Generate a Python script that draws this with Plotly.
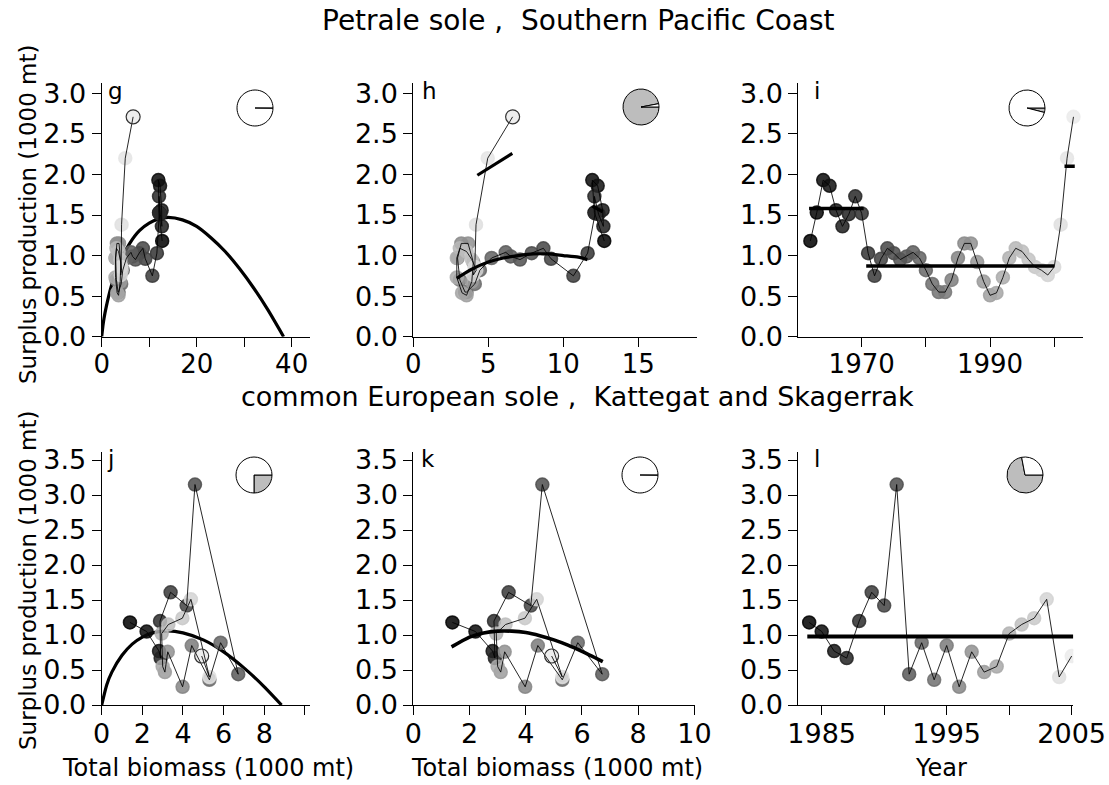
import plotly.graph_objects as go

W, H = 1109, 785

# ---------------- data ----------------
petrale_years = [1962, 1963, 1964, 1965, 1966, 1967, 1968, 1969, 1970, 1971,
                 1972, 1973, 1974, 1975, 1976, 1977, 1978, 1979, 1980, 1981,
                 1982, 1983, 1984, 1985, 1986, 1987, 1988, 1989, 1990, 1991,
                 1992, 1993, 1994, 1995, 1996, 1997, 1998, 1999, 2000, 2001,
                 2002, 2003]
petrale_sp = [1.18, 1.53, 1.93, 1.86, 1.56, 1.36, 1.51, 1.73, 1.52, 1.03,
              0.75, 0.96, 1.09, 1.03, 0.95, 0.99, 1.04, 0.97, 0.82, 0.65,
              0.55, 0.55, 0.70, 0.97, 1.15, 1.15, 0.92, 0.68, 0.51, 0.54,
              0.73, 0.97, 1.09, 1.05, 0.95, 0.86, 0.82, 0.76, 0.86, 1.38,
              2.20, 2.71]
petrale_biomass = [12.73, 12.07, 11.93, 12.29, 12.62, 12.67, 12.35, 12.07, 12.12, 11.62,
                   10.67, 9.18, 8.67, 7.89, 7.11, 6.50, 6.16, 5.22, 4.44, 4.10,
                   3.55, 3.45, 3.10, 2.95, 3.20, 3.65, 4.00, 3.90, 3.55, 3.25,
                   2.90, 2.90, 3.10, 3.55, 3.90, 4.10, 4.20, 4.00, 4.10, 4.18,
                   4.96, 6.62]

sole_years = [1984, 1985, 1986, 1987, 1988, 1989, 1990, 1991, 1992, 1993, 1994,
              1995, 1996, 1997, 1998, 1999, 2000, 2001, 2002, 2003, 2004, 2005]
sole_sp = [1.18, 1.05, 0.77, 0.67, 1.20, 1.61, 1.42, 3.15, 0.44, 0.89, 0.36,
           0.85, 0.26, 0.76, 0.47, 0.55, 1.02, 1.15, 1.24, 1.51, 0.40, 0.70]
sole_biomass = [1.39, 2.21, 2.82, 2.90, 2.87, 3.39, 4.18, 4.59, 6.72, 5.85, 5.30,
                4.43, 3.98, 3.25, 3.11, 3.00, 2.95, 3.28, 3.97, 4.39, 5.30, 4.92]

# fitted production curves
petrale_fit_b = [0, 0.25, 0.5, 1, 2, 3, 4, 6, 8, 10, 12, 14, 17, 20, 23, 26, 29, 32, 35, 38.3]
petrale_fit_p = [0, 0.13, 0.23, 0.38, 0.62, 0.80, 0.94, 1.16, 1.31, 1.40, 1.45, 1.47,
                 1.44, 1.36, 1.22, 1.05, 0.84, 0.60, 0.33, 0]
petrale_r1_b = [11.93, 12.62]
petrale_r1_p = [1.61, 1.54]
petrale_r2_b = [2.9, 3.5, 4, 5, 6, 7, 8, 9, 10, 11, 11.6]
petrale_r2_p = [0.72, 0.79, 0.84, 0.92, 0.97, 1.00, 1.02, 1.02, 1.00, 0.98, 0.95]
petrale_r3_b = [4.27, 6.60]
petrale_r3_p = [1.99, 2.26]
petrale_mean_start = [1961.8, 1970.7, 2001.6]
petrale_mean_end = [1970.3, 2000.0, 2003.2]
petrale_mean_sp = [1.58, 0.87, 2.10]

sole_fit_b = [0, 0.25, 0.5, 1, 1.5, 2, 2.5, 3.26, 4, 5, 6, 7, 8, 8.85]
sole_fit_p = [0, 0.29, 0.47, 0.71, 0.87, 0.97, 1.03, 1.06, 1.03, 0.93, 0.76, 0.53, 0.26, 0]
sole_r_b = [1.36, 2, 2.5, 3, 3.5, 4, 4.5, 5, 5.5, 6, 6.74]
sole_r_p = [0.83, 0.97, 1.03, 1.055, 1.055, 1.035, 0.99, 0.93, 0.855, 0.765, 0.62]
sole_mean_start = [1983.85]
sole_mean_end = [2005.13]
sole_mean_sp = [0.98]

# proportion of the grey slice in each corner pie
pie_grey = {"g": 0.0, "h": 0.97, "i": 0.04, "j": 0.25, "k": 0.0, "l": 0.72}

# tick values / labels
petrale_b_ticks = [0, 10, 20, 30, 40]
petrale_b_labels = ["0", "", "20", "", "40"]
petrale_b2_ticks = [0, 5, 10, 15]
petrale_b2_labels = ["0", "5", "10", "15"]
petrale_yr_ticks = [1970, 1980, 1990, 2000]
petrale_yr_labels = ["1970", "", "1990", ""]
sole_b_ticks = [0, 2, 4, 6, 8, 10]
sole_b_labels = ["0", "2", "4", "6", "8", ""]
sole_b2_labels = ["0", "2", "4", "6", "8", "10"]
sole_yr_ticks = [1985, 1990, 1995, 2000, 2005]
sole_yr_labels = ["1985", "", "1995", "", "2005"]
top_y_ticks = [0, 0.5, 1.0, 1.5, 2.0, 2.5, 3.0]
bot_y_ticks = [0, 0.5, 1.0, 1.5, 2.0, 2.5, 3.0, 3.5]

# ---------------- styling helpers ----------------
FONT = "DejaVu Sans"


def greys(n, alpha=0.85):
    out = []
    for i in range(n):
        g = int(round(255 * 0.92 * i / (n - 1)))
        out.append(f"rgba({g},{g},{g},{alpha})")
    return out


# panel boxes in pixels: x0, x1, ytop, ybottom, xrange, yrange
panels = {
    "g": (101.7, 310.0, 83.0, 336.7, [0, 43.86], [0, 3.127]),
    "h": (413.3, 696.7, 83.0, 336.7, [0, 18.89], [0, 3.127]),
    "i": (798.3, 1083.3, 83.0, 336.7, [1960.12, 2004.53], [0, 3.127]),
    "j": (101.7, 310.0, 451.7, 705.0, [0, 10.25], [0, 3.619]),
    "k": (413.3, 695.0, 451.7, 705.0, [0, 10.02], [0, 3.619]),
    "l": (798.3, 1073.3, 451.7, 705.0, [1983.13, 2005.13], [0, 3.619]),
}
order = ["g", "h", "i", "j", "k", "l"]
xticks = {
    "g": (petrale_b_ticks, petrale_b_labels),
    "h": (petrale_b2_ticks, petrale_b2_labels),
    "i": (petrale_yr_ticks, petrale_yr_labels),
    "j": (sole_b_ticks, sole_b_labels),
    "k": (sole_b_ticks, sole_b2_labels),
    "l": (sole_yr_ticks, sole_yr_labels),
}

fig = go.Figure()
layout = dict(width=W, height=H, autosize=False,
              margin=dict(l=0, r=0, t=0, b=0, pad=0, autoexpand=False),
              paper_bgcolor="white", plot_bgcolor="white", showlegend=False,
              font=dict(family=FONT, color="black"))

for idx, key in enumerate(order):
    n = "" if idx == 0 else str(idx + 1)
    x0, x1, yt, yb, xr, yr = panels[key]
    tv, tt = xticks[key]
    top = key in "ghi"
    yt_vals = top_y_ticks if top else bot_y_ticks
    layout["xaxis" + n] = dict(
        domain=[x0 / W, x1 / W], range=xr, anchor="y" + n, automargin=False,
        showline=True, linecolor="black", linewidth=1, showgrid=False, zeroline=False,
        ticks="outside", ticklen=9, tickwidth=1, tickcolor="black",
        ticklabelstandoff=-5 if top else -4,
        tickvals=tv, ticktext=tt,
        tickfont=dict(family=FONT, size=26 if top else 27, color="black"),
        fixedrange=True)
    layout["yaxis" + n] = dict(
        domain=[1 - yb / H, 1 - yt / H], range=yr, anchor="x" + n, automargin=False,
        showline=True, linecolor="black", linewidth=1, showgrid=False, zeroline=False,
        ticks="outside", ticklen=9, tickwidth=1, tickcolor="black",
        tickvals=yt_vals, ticktext=[f"{v:.1f}" for v in yt_vals],
        tickfont=dict(family=FONT, size=27, color="black"), fixedrange=True)


def axes(key):
    idx = order.index(key)
    n = "" if idx == 0 else str(idx + 1)
    return "x" + n, "y" + n


def add_points(key, xs, ys, open_last):
    xa, ya = axes(key)
    cols = greys(len(xs))
    fig.add_trace(go.Scatter(x=xs, y=ys, mode="markers", xaxis=xa, yaxis=ya,
                             marker=dict(size=13, color=cols, line=dict(color=cols, width=1.5)),
                             hoverinfo="skip"))
    fig.add_trace(go.Scatter(x=xs, y=ys, mode="lines", xaxis=xa, yaxis=ya,
                             line=dict(color="rgba(0,0,0,0.85)", width=1), hoverinfo="skip"))
    if open_last:
        fig.add_trace(go.Scatter(x=[xs[-1]], y=[ys[-1]], mode="markers", xaxis=xa, yaxis=ya,
                                 marker=dict(size=14, color="rgba(0,0,0,0)",
                                             line=dict(color="#333333", width=1.2)),
                                 hoverinfo="skip"))


def add_bold(key, xs, ys, width=3.2):
    xa, ya = axes(key)
    fig.add_trace(go.Scatter(x=xs, y=ys, mode="lines", xaxis=xa, yaxis=ya,
                             line=dict(color="black", width=width, shape="spline", smoothing=0.6),
                             hoverinfo="skip"))


# g
add_bold("g", petrale_fit_b, petrale_fit_p)
add_points("g", petrale_biomass, petrale_sp, True)
# h
add_points("h", petrale_biomass, petrale_sp, True)
add_bold("h", petrale_r1_b, petrale_r1_p)
add_bold("h", petrale_r2_b, petrale_r2_p)
add_bold("h", petrale_r3_b, petrale_r3_p)
# i
add_points("i", petrale_years, petrale_sp, False)
for s, e, v in zip(petrale_mean_start, petrale_mean_end, petrale_mean_sp):
    add_bold("i", [s, e], [v, v], width=3.5)
# j
add_bold("j", sole_fit_b, sole_fit_p)
add_points("j", sole_biomass, sole_sp, True)
# k
add_points("k", sole_biomass, sole_sp, True)
add_bold("k", sole_r_b, sole_r_p, width=3.6)
# l
add_points("l", sole_years, sole_sp, False)
for s, e, v in zip(sole_mean_start, sole_mean_end, sole_mean_sp):
    add_bold("l", [s, e], [v, v], width=4)

# pies
pie_centres = {"g": (255, 108), "h": (641, 107), "i": (1027, 108),
               "j": (254, 475), "k": (640, 475), "l": (1025, 475)}
R = 18
for key in order:
    cx, cy = pie_centres[key]
    v = max(pie_grey[key], 0.002)
    fig.add_trace(go.Pie(values=[v, 1 - v], sort=False, direction="counterclockwise",
                         rotation=90, textinfo="none", hoverinfo="skip", automargin=False,
                         marker=dict(colors=["#bdbdbd", "white"], line=dict(color="black", width=1)),
                         domain=dict(x=[(cx - R) / W, (cx + R) / W],
                                     y=[1 - (cy + R) / H, 1 - (cy - R) / H])))

ann = []


def text(s, x, y, size, angle=0, xanchor="center", yanchor="middle"):
    ann.append(dict(text=s, x=x / W, y=1 - y / H, xref="paper", yref="paper",
                    showarrow=False, textangle=angle, xanchor=xanchor, yanchor=yanchor,
                    font=dict(family=FONT, size=size, color="black")))


text("Petrale sole ,\u00a0 Southern Pacific Coast", 578, 21, 28)
text("common European sole ,\u00a0 Kattegat and Skagerrak", 577, 396, 27)
text("Surplus production (1000 mt)", 28, 214, 23, angle=-90)
text("Surplus production (1000 mt)", 28, 580, 23, angle=-90)
text("Total biomass (1000 mt)", 208, 768, 24)
text("Total biomass (1000 mt)", 557, 768, 24)
text("Year", 941, 768, 24)
for key, (lx, ly) in {"g": (106, 91), "h": (420, 91), "i": (812, 91),
                      "j": (105, 459), "k": (419, 459), "l": (812, 459)}.items():
    text(key, lx, ly, 23, xanchor="left")

layout["annotations"] = ann
fig.update_layout(**layout)
fig.write_html("out.html")
